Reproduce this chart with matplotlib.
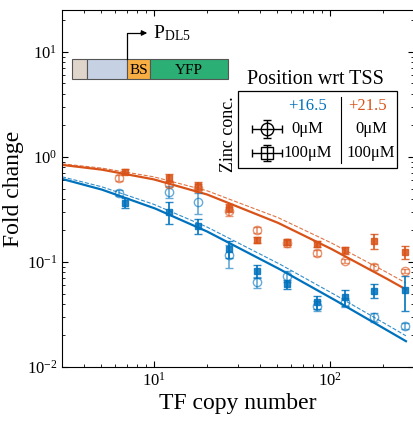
import numpy as np
import matplotlib
matplotlib.use('Agg')
import matplotlib.pyplot as plt
from matplotlib.patches import Rectangle

plt.rcParams['font.family'] = ['Liberation Serif', 'DejaVu Serif']
plt.rcParams['mathtext.fontset'] = 'stix'

# =============================================================================
# data
# =============================================================================
blue = '#0072BD'
orange = '#D95319'

# TF copy number, 0uM (circles) and 100uM (squares)
x_0uM   = [6.3, 12.2, 17.8, 26.5, 38.3, 56.7, 84.3, 121.8, 178, 265]
x_100uM = [6.8, 12.2, 17.8, 26.5, 38.3, 56.7, 84.3, 121.8, 178, 265]

# +16.5 (blue)
fc_165_0uM    = [0.454, 0.464, 0.373, 0.117, 0.0645, 0.0736, 0.0381, 0.0416, 0.030, 0.0246]
err_165_0uM   = [0.03, 0.06, 0.085, 0.029, 0.0075, 0.009, 0.004, 0.004, 0.003, 0.0015]
fc_165_100uM  = [0.365, 0.299, 0.220, 0.133, 0.082, 0.0617, 0.0416, 0.0464, 0.053, 0.054]
err_165_100uM = [0.04, 0.07, 0.035, 0.025, 0.012, 0.006, 0.006, 0.008, 0.008, 0.02]

# +21.5 (orange)
fc_215_0uM    = [0.63, 0.553, 0.507, 0.306, 0.202, 0.150, 0.122, 0.102, 0.0896, 0.082]
err_215_0uM   = [0.04, 0.04, 0.04, 0.03, 0.015, 0.01, 0.008, 0.005, 0.005, 0.004]
fc_215_100uM  = [0.72, 0.63, 0.53, 0.327, 0.162, 0.155, 0.148, 0.130, 0.158, 0.124]
err_215_100uM = [0.04, 0.05, 0.05, 0.03, 0.012, 0.01, 0.01, 0.01, 0.025, 0.018]

# model curves (read at a few copy numbers)
n_curve      = [3, 5, 10, 20, 50, 100, 200, 270]
blue_solid   = [0.617, 0.491, 0.326, 0.195, 0.0881, 0.0461, 0.0236, 0.0176]
blue_dash    = [0.646, 0.522, 0.353, 0.215, 0.0985, 0.0518, 0.0266, 0.0198]
orange_solid = [0.839, 0.758, 0.610, 0.439, 0.238, 0.135, 0.0725, 0.0547]
orange_dash  = [0.858, 0.784, 0.645, 0.476, 0.267, 0.154, 0.0833, 0.063]

# =============================================================================
# figure
# =============================================================================
fig = plt.figure(figsize=(4.14, 4.22), dpi=100)
ax = fig.add_axes([62/414, 1-367/422, 352/414, 357/422])

# curves (interpolated smoothly in log-log space)
def logcurve(xs, ys):
    lx = np.linspace(np.log10(xs[0]), np.log10(xs[-1]), 200)
    ly = np.interp(lx, np.log10(xs), np.log10(ys))
    return 10**lx, 10**ly

ax.plot(*logcurve(n_curve, blue_dash), '--', color=blue, lw=0.8, alpha=0.8)
ax.plot(*logcurve(n_curve, orange_dash), '--', color=orange, lw=0.8, alpha=0.8)
ax.plot(*logcurve(n_curve, blue_solid), '-', color=blue, lw=1.6)
ax.plot(*logcurve(n_curve, orange_solid), '-', color=orange, lw=1.6)

for col, fc0, e0, fc1, e1 in [(blue, fc_165_0uM, err_165_0uM, fc_165_100uM, err_165_100uM),
                             (orange, fc_215_0uM, err_215_0uM, fc_215_100uM, err_215_100uM)]:
    ax.errorbar(x_0uM, fc0, yerr=e0, fmt='o', ms=6, mfc='none', mec=col,
                ecolor=col, elinewidth=1.2, capsize=3, mew=1.0, alpha=0.6)
    ax.errorbar(x_100uM, fc1, yerr=e1, fmt='s', ms=5, mfc=col, mec=col,
                ecolor=col, elinewidth=1.4, capsize=3, mew=1.0, alpha=0.85)

ax.set_xscale('log')
ax.set_yscale('log')
ax.set_xlim(3, 300)
ax.set_ylim(0.01, 25)
ax.tick_params(which='both', direction='in', top=True, right=True, labelsize=12)
ax.tick_params(which='major', length=4)
ax.tick_params(which='minor', length=2)
ax.set_xticks([10, 100])
ax.set_yticks([0.01, 0.1, 1, 10])
ax.spines['right'].set_visible(False)
ax.set_xlabel('TF copy number', fontsize=17, labelpad=2)
ax.set_ylabel('Fold change', fontsize=17, labelpad=2)

# =============================================================================
# overlay in pixel coordinates: construct diagram and legend
# =============================================================================
ov = fig.add_axes([0, 0, 1, 1])
ov.set_xlim(0, 414)
ov.set_ylim(422, 0)
ov.axis('off')

boxes = [(72, 15, '#DFD5CB', ''), (87, 40, '#C6D1E4', ''),
         (127, 23, '#F9AE43', 'BS'), (150, 78, '#2BAF74', 'YFP')]
for x0, w, c, lab in boxes:
    ov.add_patch(Rectangle((x0, 59), w, 20, fc=c, ec='#555555', lw=0.8))
    if lab:
        ov.text(x0 + w/2, 70, lab, ha='center', va='center', fontsize=11)
ov.plot([127, 127, 140], [59, 33, 33], color='k', lw=0.9)
ov.annotate('', xy=(150, 33), xytext=(138, 33),
            arrowprops=dict(arrowstyle='-|>', color='k', lw=0.9, mutation_scale=8))
ov.text(153, 33, r'P$_{\mathregular{DL5}}$', ha='left', va='center', fontsize=14)

# legend
ov.text(315, 80, 'Position wrt TSS', ha='center', va='center', fontsize=14.5)
ov.add_patch(Rectangle((238, 91), 159, 77, fc='white', ec='k', lw=0.9))
ov.text(229, 134, 'Zinc conc.', rotation=90, ha='center', va='center', fontsize=13)
ov.plot([341, 341], [97, 163], color='k', lw=0.8)
ov.text(327, 106, '+16.5', color=blue, ha='right', va='center', fontsize=12)
ov.text(368, 106, '+21.5', color=orange, ha='center', va='center', fontsize=12)
ov.text(307, 129, '0\u03bcM', ha='center', va='center', fontsize=12)
ov.text(371, 129, '0\u03bcM', ha='center', va='center', fontsize=12)
ov.text(308, 153, '100\u03bcM', ha='center', va='center', fontsize=12)
ov.text(371, 153, '100\u03bcM', ha='center', va='center', fontsize=12)
ov.errorbar([267], [129], xerr=[[15]], yerr=[[9]], fmt='o', ms=9, mfc='none',
            mec='k', ecolor='k', capsize=3, lw=1.0)
ov.errorbar([267], [153], xerr=[[15]], yerr=[[8]], fmt='s', ms=8, mfc='none',
            mec='k', ecolor='k', capsize=3, lw=1.0)

fig.savefig('out.png', dpi=100)
